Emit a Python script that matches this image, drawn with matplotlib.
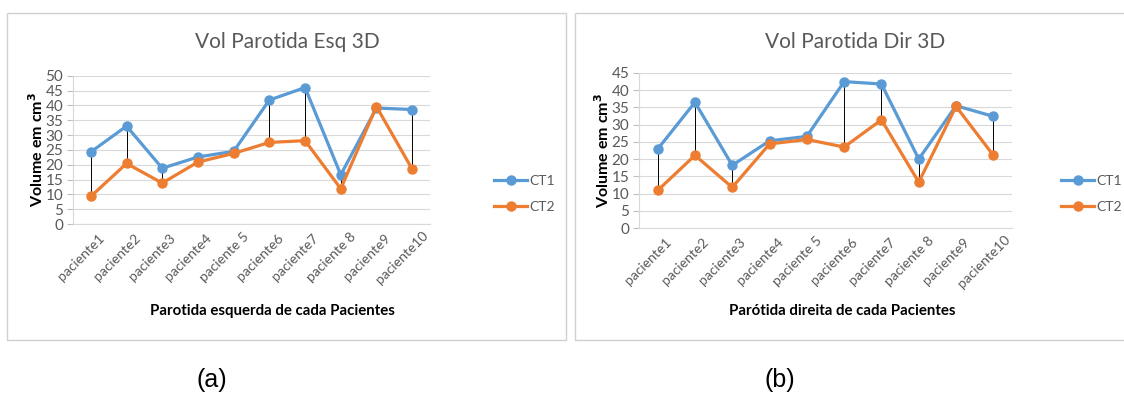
import matplotlib
matplotlib.use("Agg")
import matplotlib.pyplot as plt
from matplotlib.patches import Rectangle

plt.rcParams.update({"font.family": ["Lato", "DejaVu Sans"]})

pacientes = ["paciente1", "paciente2", "paciente3", "paciente4", "paciente 5",
             "paciente6", "paciente7", "paciente 8", "paciente9", "paciente10"]

# left parotid volumes (cm3)
esq_ct1 = [24.3, 33.0, 18.8, 22.6, 24.5, 41.8, 46.0, 16.6, 39.1, 38.6]
esq_ct2 = [9.3, 20.4, 13.8, 20.9, 23.8, 27.5, 28.1, 11.9, 39.6, 18.5]
# right parotid volumes (cm3)
dir_ct1 = [22.9, 36.5, 18.2, 25.3, 26.6, 42.5, 41.8, 20.0, 35.5, 32.4]
dir_ct2 = [10.9, 21.1, 11.8, 24.4, 25.7, 23.5, 31.4, 13.3, 35.3, 21.1]

BLUE = "#5B9BD5"; ORANGE = "#ED7D31"; GREY = "#595959"; GRID = "#D9D9D9"

fig = plt.figure(figsize=(11.24, 3.96), dpi=100)
W, H = 1124, 396

def px(x0, y0, x1, y1):
    return [x0 / W, 1 - y1 / H, (x1 - x0) / W, (y1 - y0) / H]

# chart frames (the right one runs past the image edge)
for x0, x1 in [(7, 566), (575, 1135)]:
    fig.patches.append(Rectangle((x0 / W, 1 - 340 / H), (x1 - x0) / W, 327 / H,
                                 transform=fig.transFigure, fill=False,
                                 edgecolor="#D0D0D0", linewidth=1.0))

def panel(rect, ct1, ct2, ymax, title, xlabel, title_x, xlab_x, leg_x):
    ax = fig.add_axes(rect)
    x = list(range(len(pacientes)))
    ax.vlines(x, ct2, ct1, colors="black", linewidth=0.7, zorder=2)
    l1, = ax.plot(x, ct1, color=BLUE, lw=2.3, marker="o", ms=6.5, label="CT1", zorder=3)
    l2, = ax.plot(x, ct2, color=ORANGE, lw=2.3, marker="o", ms=6.5, label="CT2", zorder=3)
    ax.set_xlim(-0.5, len(pacientes) - 0.5)
    ax.set_ylim(0, ymax)
    ax.set_yticks(range(0, ymax + 1, 5))
    ax.yaxis.grid(True, color=GRID, lw=0.8)
    ax.set_axisbelow(True)
    for s in ["top", "right"]:
        ax.spines[s].set_visible(False)
    for s in ["left", "bottom"]:
        ax.spines[s].set_color(GRID)
    ax.tick_params(axis="y", colors=GREY, labelsize=11, length=4, color="#BFBFBF", pad=3)
    ax.set_xticks(x)
    ax.tick_params(axis="x", length=0, labelbottom=False)
    # slanted category labels, centred a little below each tick
    for i, name in zip(x, pacientes):
        ax.annotate(name, xy=(i, 0), xycoords=("data", "axes fraction"),
                    xytext=(-7, -24), textcoords="offset points", rotation=45,
                    rotation_mode="anchor", ha="center", va="center",
                    fontsize=10, color=GREY, annotation_clip=False)
    ax.set_ylabel("Volume em cm$^\\mathbf{3}$", fontsize=11.5, fontweight="bold", labelpad=0)
    fig.text(xlab_x / W, 1 - 311 / H, xlabel, fontsize=10.8, fontweight="bold",
             ha="center", va="center")
    fig.text(title_x / W, 1 - 42 / H, title, fontsize=15, color=GREY, ha="center", va="center")
    fig.legend(handles=[l1, l2], loc="upper left", bbox_to_anchor=(leg_x / W, 1 - 175 / H),
               frameon=False, fontsize=10, labelcolor=GREY, handlelength=2.4,
               handletextpad=0.15, labelspacing=1.0, borderpad=0, borderaxespad=0)
    return ax

panel(px(73, 75.7, 430, 224), esq_ct1, esq_ct2, 50, "Vol Parotida Esq 3D",
      "Parotida esquerda de cada Pacientes", 287, 272, 494)
panel(px(639, 73, 1012, 228), dir_ct1, dir_ct2, 45, "Vol Parotida Dir 3D",
      "Parótida direita de cada Pacientes", 855, 842, 1061)

fig.text(212 / W, 1 - 380 / H, "(a)", fontsize=18, family="Liberation Sans", ha="center", va="center")
fig.text(780 / W, 1 - 380 / H, "(b)", fontsize=18, family="Liberation Sans", ha="center", va="center")

fig.savefig("out.png", dpi=100)
